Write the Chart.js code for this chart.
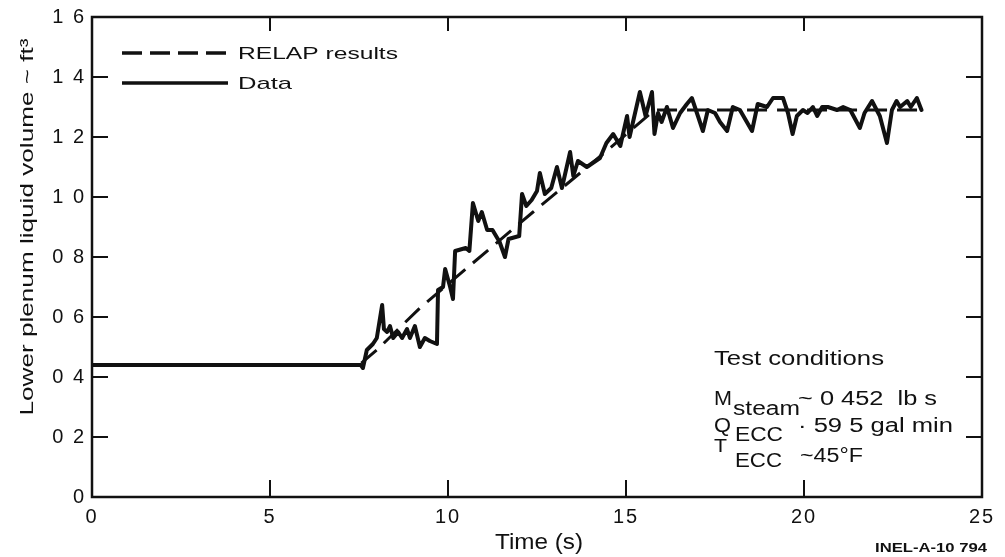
<!DOCTYPE html>
<html>
<head>
<meta charset="utf-8">
<title>Lower plenum liquid volume</title>
<script src="https://cdn.jsdelivr.net/npm/chart.js@4.4.1/dist/chart.umd.min.js"></script>
<style>
  html, body { margin: 0; padding: 0; background: #fff; }
  #wrap { position: relative; width: 1005px; height: 557px; }
</style>
</head>
<body>
<div id="wrap"><canvas id="lpChart"></canvas></div>
<script>
// ---- data ----
const X_TICKS = [0, 5, 10, 15, 20, 25];
const Y_TICKS = [0, 0.2, 0.4, 0.6, 0.8, 1.0, 1.2, 1.4, 1.6];

// RELAP results (dashed)
const RELAP_T = [0, 7.5, 8.0, 9.21, 12.39, 14.27, 15.8, 23.3];
const RELAP_V = [0.44, 0.44, 0.49, 0.63, 0.95, 1.135, 1.29, 1.29];

// Data (solid)
const DATA_T = [
  0, 7.55, 7.61, 7.72, 7.89, 8.0, 8.15, 8.2, 8.29, 8.37, 8.46, 8.6, 8.71, 8.85, 8.93,
  9.07, 9.21, 9.35, 9.49, 9.69, 9.72, 9.86, 9.92, 10.06, 10.14, 10.2, 10.5, 10.6,
  10.7, 10.85, 10.95, 11.1, 11.25, 11.45, 11.6, 11.7, 12.0, 12.08, 12.2, 12.35, 12.5,
  12.58, 12.72, 12.9, 13.06, 13.2, 13.43, 13.52, 13.65, 13.9, 14.27, 14.45, 14.64,
  14.84, 15.03, 15.1, 15.39, 15.55, 15.73, 15.8, 15.9, 16.0, 16.15, 16.32, 16.52,
  16.71, 16.85, 17.02, 17.16, 17.3, 17.5, 17.64, 17.84, 18.0, 18.2, 18.54, 18.7,
  18.96, 19.13, 19.41, 19.55, 19.68, 19.8, 19.97, 20.1, 20.25, 20.37, 20.51, 20.67,
  20.93, 21.1, 21.3, 21.57, 21.7, 21.91, 22.13, 22.33, 22.47, 22.6, 22.7, 22.9,
  23.0, 23.17, 23.3
];
const DATA_V = [
  0.44, 0.44, 0.43, 0.49, 0.51, 0.53, 0.64, 0.56, 0.55, 0.57, 0.53, 0.55, 0.53, 0.56, 0.53,
  0.57, 0.50, 0.53, 0.52, 0.51, 0.69, 0.70, 0.76, 0.70, 0.66, 0.82, 0.83, 0.82,
  0.98, 0.92, 0.95, 0.89, 0.89, 0.85, 0.80, 0.86, 0.87, 1.01, 0.97, 0.99, 1.02,
  1.08, 1.01, 1.03, 1.10, 1.03, 1.15, 1.07, 1.12, 1.10, 1.13, 1.18, 1.21,
  1.17, 1.27, 1.20, 1.35, 1.27, 1.35, 1.21, 1.28, 1.25, 1.30, 1.23, 1.28,
  1.31, 1.33, 1.27, 1.22, 1.29, 1.28, 1.25, 1.22, 1.30, 1.29, 1.22, 1.31,
  1.30, 1.33, 1.33, 1.28, 1.21, 1.27, 1.29, 1.28, 1.30, 1.27, 1.30, 1.30,
  1.29, 1.30, 1.29, 1.23, 1.28, 1.32, 1.27, 1.18, 1.29, 1.32, 1.30, 1.32,
  1.30, 1.33, 1.29
];

const FONT = "'Liberation Sans', Arial, Helvetica, sans-serif";
const INK = '#111';

const tickLabel = v => v === 0 ? '0' : v.toFixed(1).replace('.', ' ');

// the scanned original is stretched sideways, so squeeze text to a target width
function wideText(ctx, text, x, y, size, width, opts = {}) {
  ctx.font = `${opts.bold ? 'bold ' : ''}${size}px ${FONT}`;
  const sx = width ? width / ctx.measureText(text).width : 1;
  ctx.save();
  ctx.translate(x, y);
  if (opts.rotate) ctx.rotate(opts.rotate);
  ctx.scale(sx, 1);
  ctx.textAlign = opts.align || 'left';
  ctx.textBaseline = opts.baseline || 'alphabetic';
  ctx.fillText(text, 0, 0);
  ctx.restore();
}

const spacingPlugin = {
  id: 'spacing',
  beforeDraw(chart) { chart.ctx.letterSpacing = '2px'; }
};

// frame, inward ticks, legend and annotations
const paperPlugin = {
  id: 'paper',
  afterDraw(chart) {
    const { ctx, chartArea: a, scales: { x, y } } = chart;
    ctx.save();
    ctx.letterSpacing = '0px';
    ctx.strokeStyle = INK;
    ctx.lineWidth = 2.5;
    ctx.strokeRect(a.left, a.top, a.right - a.left, a.bottom - a.top);

    ctx.lineWidth = 2;
    ctx.beginPath();
    Y_TICKS.forEach(v => {
      if (v === 0 || v === 1.6) return;
      const py = y.getPixelForValue(v);
      ctx.moveTo(a.left, py); ctx.lineTo(a.left + 16, py);
      ctx.moveTo(a.right, py); ctx.lineTo(a.right - 16, py);
    });
    X_TICKS.forEach(v => {
      if (v === 0 || v === 25) return;
      const px = x.getPixelForValue(v);
      ctx.moveTo(px, a.bottom); ctx.lineTo(px, a.bottom - 17);
      ctx.moveTo(px, a.top); ctx.lineTo(px, a.top + 14);
    });
    ctx.stroke();

    // legend
    ctx.lineWidth = 3.5;
    ctx.setLineDash([20, 8]);
    ctx.beginPath(); ctx.moveTo(122, 53); ctx.lineTo(228, 53); ctx.stroke();
    ctx.setLineDash([]);
    ctx.beginPath(); ctx.moveTo(122, 83); ctx.lineTo(228, 83); ctx.stroke();

    ctx.fillStyle = INK;
    wideText(ctx, 'RELAP results', 238, 59, 17, 160);
    wideText(ctx, 'Data', 238, 89, 17, 54);

    // test conditions
    wideText(ctx, 'Test conditions', 714, 365, 20, 170);
    wideText(ctx, 'M', 714, 405, 20, 18);
    wideText(ctx, 'steam', 733, 415, 20, 67);
    wideText(ctx, '~ 0 452  lb s', 798, 405, 20, 139);
    wideText(ctx, 'Q', 714, 432, 20, 17);
    wideText(ctx, 'ECC', 735, 441, 20, 48);
    wideText(ctx, '· 59 5 gal min', 798, 432, 20, 155);
    wideText(ctx, 'T', 714, 452, 18, 13);
    wideText(ctx, 'ECC', 735, 467, 20, 47);
    wideText(ctx, '~45°F', 800, 462, 20, 63);

    // axis titles and figure id
    wideText(ctx, 'Lower plenum liquid volume ~ ft³', 28, 227, 19, 377,
      { rotate: -Math.PI / 2, align: 'center', baseline: 'middle' });
    wideText(ctx, 'Time (s)', 539, 549, 22, 88, { align: 'center' });
    wideText(ctx, 'INEL-A-10 794', 987, 552, 13, 112, { align: 'right', bold: true });
    ctx.restore();
  }
};

new Chart(document.getElementById('lpChart'), {
  type: 'line',
  data: {
    datasets: [
      {
        label: 'RELAP results',
        data: RELAP_T.map((t, i) => ({ x: t, y: RELAP_V[i] })),
        borderColor: INK,
        borderWidth: 3,
        borderDash: [20, 10],
        pointRadius: 0,
        tension: 0,
      },
      {
        label: 'Data',
        data: DATA_T.map((t, i) => ({ x: t, y: DATA_V[i] })),
        borderColor: INK,
        borderWidth: 4,
        borderJoinStyle: 'round',
        borderCapStyle: 'round',
        pointRadius: 0,
        tension: 0,
      }
    ]
  },
  options: {
    responsive: true,
    maintainAspectRatio: false,
    animation: false,
    events: [],
    layout: { padding: { left: 0, top: 17, right: 23, bottom: 0 } },
    plugins: {
      legend: { display: false },
      tooltip: { enabled: false }
    },
    scales: {
      x: {
        type: 'linear',
        min: 0, max: 25,
        afterFit: s => { s.height = 60; },
        afterBuildTicks: s => { s.ticks = X_TICKS.map(v => ({ value: v })); },
        grid: { display: false },
        border: { display: false },
        ticks: { color: INK, padding: 0, maxRotation: 0, font: { family: FONT, size: 20 } }
      },
      y: {
        min: 0, max: 1.6,
        afterFit: s => { s.width = 92; },
        afterBuildTicks: s => { s.ticks = Y_TICKS.map(v => ({ value: v })); },
        grid: { display: false },
        border: { display: false },
        ticks: { color: INK, padding: -2, callback: tickLabel, font: { family: FONT, size: 20 } }
      }
    }
  },
  plugins: [spacingPlugin, paperPlugin]
});
</script>
</body>
</html>
